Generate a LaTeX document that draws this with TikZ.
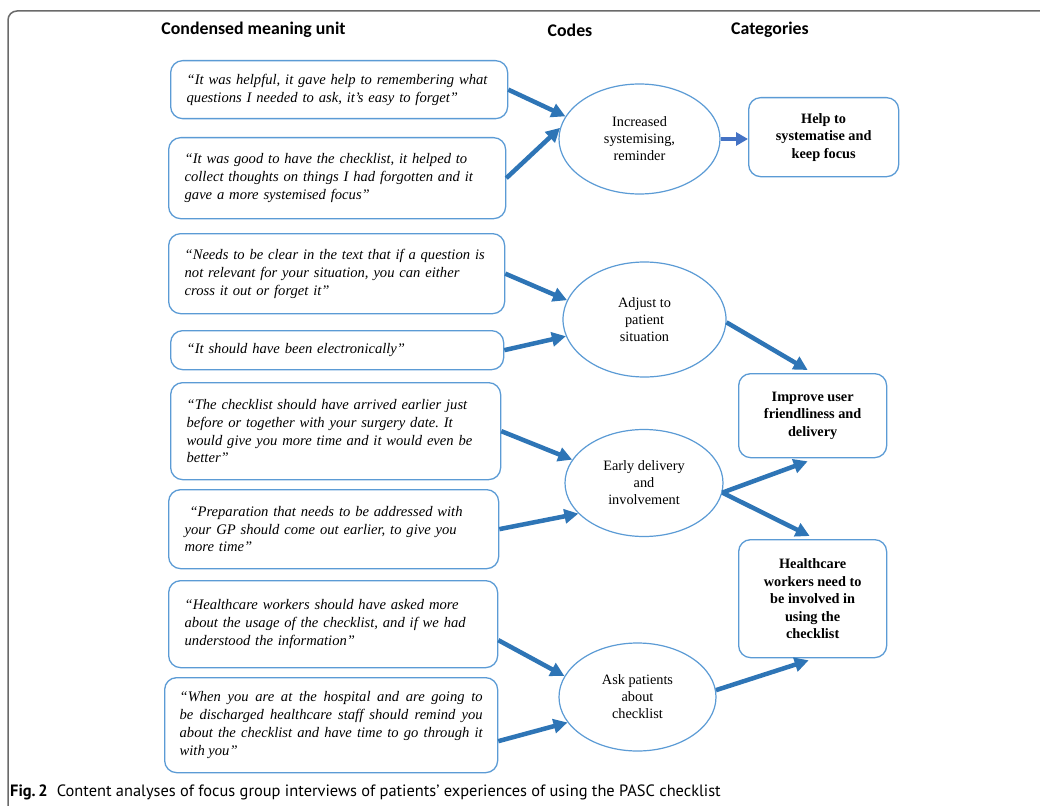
\documentclass[tikz,border=0pt]{standalone}
\usepackage{fontspec}
\setmainfont{Liberation Serif}
\newfontfamily\headfont{Carlito}
\newfontfamily\capfont{PT Sans}
\usetikzlibrary{arrows.meta,shapes.geometric}

\definecolor{boxblue}{HTML}{5B9BD5}
\definecolor{arrowblue}{HTML}{2E75B6}
\definecolor{arrowblueb}{HTML}{4472C4}
\definecolor{framegrey}{HTML}{6A6A6A}

\frenchspacing
\begin{document}
\begin{tikzpicture}[x=1pt,y=-1pt,
  quote/.style={draw=boxblue, line width=1.3pt, rounded corners=12pt,
    anchor=north west, align=left, inner xsep=16pt, inner ysep=0pt,
    font=\fontsize{14.6}{17.8}\selectfont\itshape},
  code/.style={draw=boxblue, line width=1.2pt, ellipse, inner sep=0pt,
    align=center, font=\fontsize{14.3}{17}\selectfont},
  cat/.style={draw=boxblue, line width=1.3pt, rounded corners=12pt,
    anchor=north west, align=center, inner sep=0pt,
    font=\fontsize{14.3}{17.5}\selectfont\bfseries},
  flow/.style={draw=arrowblue, line width=4.5pt,
    -{Triangle[length=14pt,width=14pt]}},
  head/.style={font=\headfont\bfseries\fontsize{17.8}{20}\selectfont}
]
\useasboundingbox (0,0) rectangle (1040,805);
\fill[white] (0,0) rectangle (1040,805);

% figure frame
\draw[framegrey, line width=1.5pt, rounded corners=9pt]
  (8,815) -- (8,11) -- (1050,11);

% column headings
\node[head] (hunit) at (253.5,30) {Condensed meaning unit};
\node[head] (hcode) at (570,30) {Codes};
\node[head] (hcat)  at (770,30) {Categories};

% condensed meaning units
\node[quote, minimum width=337, minimum height=58, text width=305] (q1) at (170,60)
  {“It was helpful, it gave help to remembering what\\questions I needed to ask, it’s easy to forget”};
\node[quote, minimum width=337, minimum height=81, text width=305] (q2) at (168,137)
  {“It was good to have the checklist, it helped to\\collect thoughts on things I had forgotten and it\\gave a more systemised focus”};
\node[quote, minimum width=336, minimum height=80, text width=304] (q3) at (168,233)
  {“Needs to be clear in the text that if a question is\\not relevant for your situation, you can either\\cross it out or forget it”};
\node[quote, minimum width=333, minimum height=39, text width=301] (q4) at (170,330)
  {“It should have been electronically”};
\node[quote, minimum width=330, minimum height=97, text width=298] (q5) at (170,382)
  {“The checklist should have arrived earlier just\\before or together with your surgery date. It\\would give you more time and it would even be\\better”};
\node[quote, minimum width=330, minimum height=79, text width=298] (q6) at (168,489)
  {\ “Preparation that needs to be addressed with\\your GP should come out earlier, to give you\\more time”};
\node[quote, minimum width=329, minimum height=87, text width=297] (q7) at (168,580)
  {“Healthcare workers should have asked more\\about the usage of the checklist, and if we had\\understood the information”};
\node[quote, minimum width=333, minimum height=95, text width=303, inner xsep=15pt, align=justify] (q8) at (164,677)
  {“When you are at the hospital and are going to\linebreak be discharged healthcare staff should remind you\linebreak about the checklist and have time to go through it\linebreak with you”};

% codes
\node[code, minimum width=161, minimum height=110] (e1) at (639.5,139)
  {Increased\\systemising,\\reminder};
\node[code, minimum width=163, minimum height=115] (e2) at (644.5,319.5)
  {Adjust to\\patient\\situation};
\node[code, minimum width=158, minimum height=107] (e3) at (644,483)
  {Early delivery\\and\\involvement};
\node[code, minimum width=157, minimum height=108] (e4) at (637.5,697)
  {Ask patients\\about\\checklist};

% categories
\node[cat, minimum width=150, minimum height=79] (c1) at (748,97)
  {Help to\\systematise and\\keep focus};
\node[cat, minimum width=148, minimum height=84] (c2) at (738,373)
  {Improve user\\friendliness and\\delivery};
\node[cat, minimum width=148, minimum height=118] (c3) at (738,539)
  {Healthcare\\workers need to\\be involved in\\using the\\checklist};

% connectors
\draw[flow] (q1.east) -- (e1.163);
\draw[flow] (q2.east) -- (e1.172);
\draw[flow, draw=arrowblueb, line width=4pt, -{Triangle[length=12pt,width=13pt]}]
  (e1.east) -- (e1.east -| c1.west);
\draw[flow] (q3.east) -- (e2.166);
\draw[flow] (q4.east) -- (e2.192);
\draw[flow] (e2.358) -- ([xshift=-5pt,yshift=3pt]c2.north);
\draw[flow] (q5.east) -- (e3.162);
\draw[flow] (q6.east) -- (e3.205);
\draw[flow] (e3.353) -- ([xshift=-5pt,yshift=-3pt]c2.south);
\draw[flow] (e3.353) -- ([xshift=-3pt,yshift=3pt]c3.north);
\draw[flow] ([yshift=-16pt]q7.east) -- (e4.164);
\draw[flow] ([yshift=-16pt]q8.east) -- (e4.200);
\draw[flow] (e4.5) -- ([xshift=-4pt,yshift=-2pt]c3.south);

% caption
\node[anchor=west, inner sep=0pt, font=\capfont\fontsize{16.4}{19}\selectfont] (cap) at (10,792)
  {{\bfseries Fig.\,2}\hspace{0.55em}Content analyses of focus group interviews of patients’ experiences of using the PASC checklist};
\end{tikzpicture}
\end{document}
